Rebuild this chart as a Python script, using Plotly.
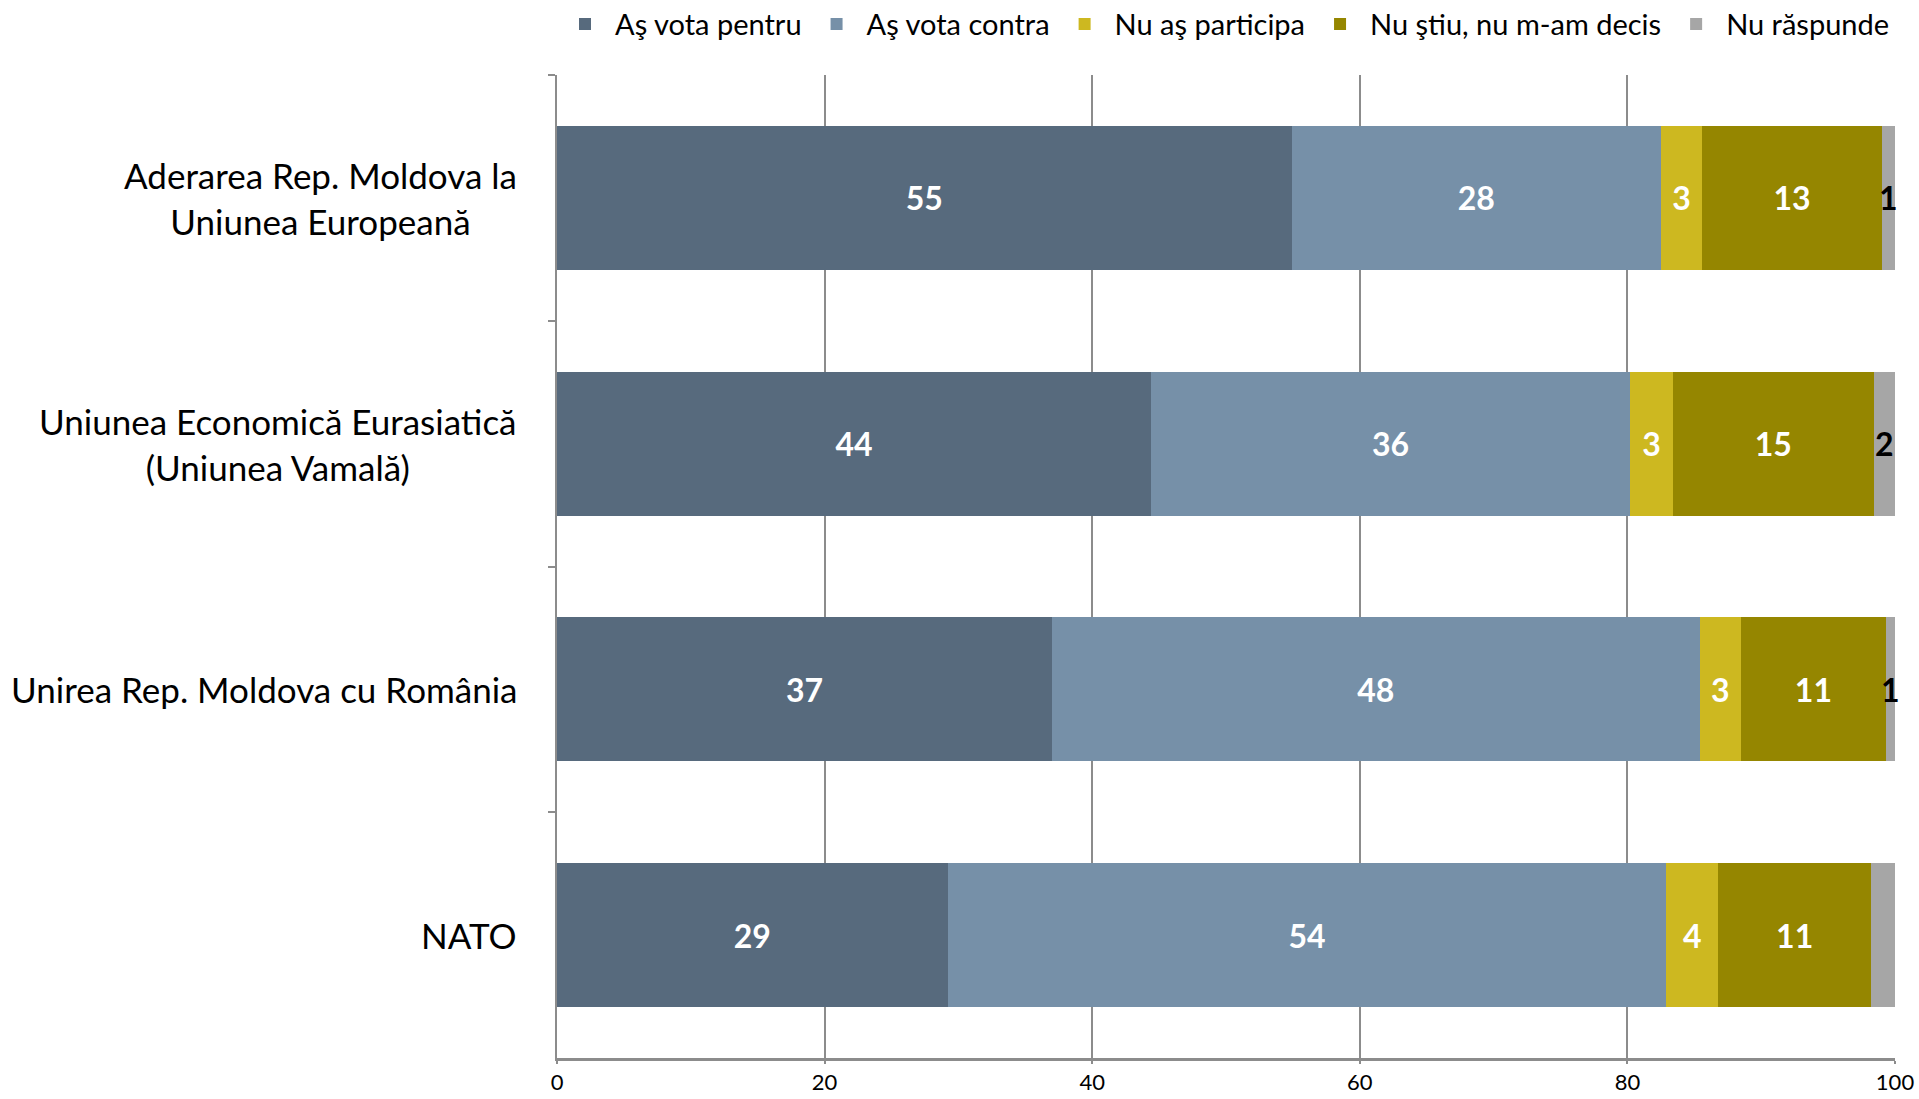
import plotly.graph_objects as go

categories = [
    "Aderarea Rep. Moldova la<br>Uniunea Europeană",
    "Uniunea Economică Eurasiatică<br>(Uniunea Vamală)",
    "Unirea Rep. Moldova cu România",
    "NATO",
]
series_names = ["Aş vota pentru", "Aş vota contra", "Nu aş participa", "Nu ştiu, nu m-am decis", "Nu răspunde"]
pentru = [54.9, 44.4, 37.0, 29.2]
contra = [27.6, 35.8, 48.4, 53.7]
participa = [3.1, 3.2, 3.1, 3.9]
nu_stiu = [13.4, 15.0, 10.8, 11.4]
nu_raspunde = [1.0, 1.6, 0.7, 1.8]
x_ticks = [0, 20, 40, 60, 80, 100]

colors = ["#576A7D", "#7690A8", "#CDB820", "#958600", "#A6A6A6"]
text_colors = ["white", "white", "white", "white", "black"]
FONT = "Lato"

fig = go.Figure()
for name, vals, col, tcol in zip(series_names, [pentru, contra, participa, nu_stiu, nu_raspunde], colors, text_colors):
    fig.add_trace(go.Bar(
        name=name, y=categories, x=vals, orientation="h",
        marker=dict(color=col, line=dict(width=0)),
        texttemplate="%{x:.0f}", textposition="inside", insidetextanchor="middle",
        constraintext="none", cliponaxis=False,
        textfont=dict(family=FONT, size=32, color=tcol, weight="bold"),
        hoverinfo="skip",
    ))

for c in categories:
    fig.add_annotation(
        x=0, xref="paper", y=c, yref="y", text=c, showarrow=False,
        xanchor="right", align="center", xshift=-38,
        font=dict(family=FONT, size=35, color="black"),
    )

fig.update_layout(
    barmode="stack", bargap=0.415,
    width=1919, height=1099,
    margin=dict(l=557, r=24, t=75, b=41, autoexpand=False),
    paper_bgcolor="white", plot_bgcolor="white",
    font=dict(family=FONT, size=22, color="black"),
    legend=dict(orientation="h", x=1, xanchor="right", xref="paper",
                y=0.978, yanchor="middle", yref="container",
                font=dict(family=FONT, size=29), traceorder="normal", itemwidth=50),
    showlegend=True,
    xaxis=dict(range=[0, 100], tickvals=x_ticks, showgrid=True, gridcolor="#8C8C8C", gridwidth=2,
               showline=True, linecolor="#8C8C8C", linewidth=3, ticks="outside", ticklen=3,
               tickcolor="#8C8C8C", tickwidth=2, zeroline=False, automargin=False,
               tickfont=dict(family=FONT, size=22)),
    yaxis=dict(autorange="reversed", showline=True, linecolor="#8C8C8C", linewidth=2,
               ticks="outside", tickson="boundaries", ticklen=7, tickcolor="#8C8C8C", tickwidth=2,
               showticklabels=False, showgrid=False, automargin=False),
)

fig.write_html("out.html", config={"displayModeBar": False},
               post_script="document.body.style.margin='0';document.body.style.overflow='hidden';")
